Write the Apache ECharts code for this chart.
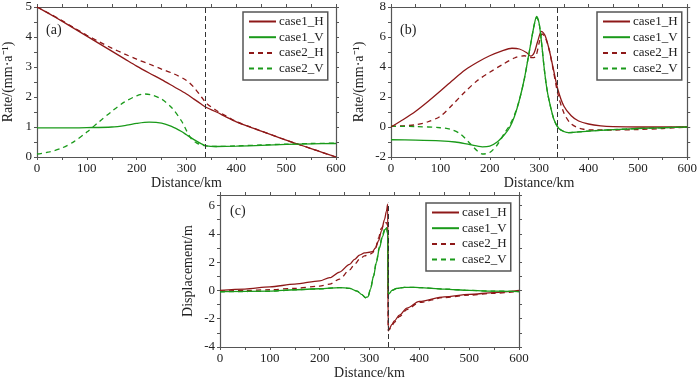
<!DOCTYPE html>
<html><head><meta charset="utf-8">
<script src="https://cdn.jsdelivr.net/npm/echarts@6/dist/echarts.min.js"></script>
<style>html,body{margin:0;padding:0;background:#fff}#c{width:700px;height:381px}</style>
</head><body><div id="c"></div>
<script>
// ---------- Panel (a) ----------
var aH1x = [0,25,50,75,100,125,150,175,200,225,250,275,300,315,330,340,360,380,400,425,450,475,500,525,550,575,600];
var aH1  = [5.0,4.77,4.53,4.28,4.03,3.78,3.53,3.28,3.03,2.8,2.58,2.34,2.1,1.93,1.76,1.65,1.5,1.33,1.17,1.01,0.86,0.71,0.56,0.42,0.28,0.14,0.0];
var aH2x = [0,25,50,75,100,125,150,175,200,225,250,275,300,315,330,340,360,380,400,425,450,475,500,525,550,575,600];
var aH2  = [5.0,4.78,4.55,4.3,4.06,3.84,3.63,3.44,3.26,3.1,2.93,2.77,2.55,2.32,2.0,1.79,1.55,1.36,1.18,1.02,0.87,0.71,0.56,0.42,0.28,0.14,0.0];
var aV1x = [0,50,100,150,180,200,225,250,270,290,300,315,330,340,360,400,450,500,550,600];
var aV1  = [0.97,0.97,0.98,1.0,1.06,1.12,1.16,1.13,1.02,0.85,0.74,0.58,0.44,0.37,0.35,0.36,0.39,0.42,0.44,0.45];
var aV2x = [0,25,50,75,100,125,150,175,200,215,230,250,270,290,300,310,320,330,340,360,400,450,500,550,600];
var aV2  = [0.1,0.17,0.3,0.52,0.83,1.18,1.52,1.83,2.04,2.1,2.07,1.93,1.65,1.2,0.88,0.6,0.47,0.4,0.37,0.35,0.37,0.4,0.43,0.45,0.46];
// ---------- Panel (b) ----------
var bH1x = [0,25,50,75,100,125,150,175,200,225,245,260,275,283,290,297,305,312,320,328,338,350,365,380,400,425,450,500,550,600];
var bH1  = [0,0.5,1.05,1.7,2.4,3.12,3.8,4.32,4.75,5.08,5.25,5.2,4.95,4.72,4.95,5.7,6.37,6.1,5.2,4.0,2.5,1.4,0.75,0.4,0.2,0.08,0.03,0,0,0];
var bH2x = [0,25,50,75,100,125,150,175,200,225,250,270,285,293,300,306,312,320,328,338,350,362,375,390,410,450,500,550,600];
var bH2  = [0.05,0.08,0.15,0.35,0.72,1.5,2.35,3.1,3.65,4.15,4.6,4.75,4.62,4.7,5.6,6.2,6.0,5.2,3.9,2.2,0.95,0.3,0.0,-0.15,-0.2,-0.2,-0.17,-0.1,0];
var bV1x = [0,50,100,130,160,185,200,215,230,240,250,260,270,280,290,295,300,305,310,315,320,330,340,350,360,380,400,450,500,550,600];
var bV1  = [-0.85,-0.87,-0.92,-1.0,-1.18,-1.32,-1.27,-1.0,-0.5,-0.05,0.7,1.8,3.2,5.0,6.8,7.37,6.9,5.6,4.0,2.7,1.8,0.5,-0.1,-0.3,-0.38,-0.33,-0.27,-0.18,-0.1,-0.05,0];
var bV2x = [0,50,100,120,140,160,175,185,200,215,230,240,250,260,270,280,290,295,300,305,310,315,320,330,340,350,360,380,400,450,500,550,600];
var bV2  = [0.05,0.03,-0.05,-0.15,-0.45,-1.1,-1.6,-1.8,-1.7,-1.2,-0.4,0.1,0.8,1.8,3.2,5.0,6.8,7.3,6.9,5.6,4.0,2.7,1.8,0.5,-0.1,-0.3,-0.38,-0.33,-0.27,-0.18,-0.1,-0.05,0];
// ---------- Panel (c) ----------
var cH1x = [0,50,100,150,200,220,240,260,270,280,290,300,306,312,318,324,330,334,336.5,337.5,340,345,350,360,375,400,450,500,550,600];
var cH1  = [0,0.1,0.25,0.45,0.68,0.9,1.3,1.85,2.2,2.5,2.65,2.7,2.75,3.0,3.5,4.2,5.0,5.6,6.1,-2.85,-2.7,-2.4,-2.15,-1.75,-1.25,-0.78,-0.45,-0.28,-0.15,0];
var cH2x = [0,50,100,150,200,220,240,260,270,280,290,300,306,312,318,324,330,334,336.5,337.5,340,345,350,360,375,400,450,500,550,600];
var cH2  = [-0.05,0.0,0.05,0.15,0.3,0.45,0.8,1.45,1.85,2.2,2.45,2.55,2.65,3.0,3.7,4.4,4.75,4.8,4.6,-2.85,-2.75,-2.5,-2.25,-1.85,-1.35,-0.85,-0.5,-0.33,-0.2,-0.05];
var cV1x = [0,100,150,200,240,260,275,285,292,297,302,308,314,320,326,331,334,336.5,337.5,340,345,355,370,385,400,450,500,550,600];
var cV1  = [-0.08,-0.05,0.05,0.12,0.2,0.15,-0.05,-0.3,-0.5,-0.45,0.1,1.0,2.0,3.0,3.8,4.3,4.4,4.0,-0.25,-0.2,0.0,0.15,0.22,0.22,0.2,0.1,0.0,-0.05,-0.08];
var cV2x = [0,100,150,200,240,260,275,285,292,297,302,308,314,320,326,331,334,336.5,337.5,340,345,355,370,385,400,450,500,550,600];
var cV2  = [-0.1,-0.06,0.04,0.11,0.2,0.15,-0.05,-0.32,-0.52,-0.45,0.1,1.0,2.1,3.1,3.9,4.4,4.5,4.1,-0.25,-0.2,0.0,0.15,0.22,0.22,0.2,0.1,0.0,-0.05,-0.08];

var seriesNames = ['case1_H','case1_V','case2_H','case2_V'];
var faultX = 337;
var faultTopC = 6.2;
var xTicks = {min:0, max:600, interval:100};
var yRanges = [{min:0,max:5,interval:1},{min:-2,max:8,interval:2},{min:-4,max:6.75,interval:2}];
var yNames = ['Rate/(mm·a⁻¹)','Rate/(mm·a⁻¹)','Displacement/m'];
var panelLabels = ['(a)','(b)','(c)'];

var RED = '#8e1818', GREEN = '#1a9a1a', AX = '#555';
var FONT = 'Liberation Serif';

function pairs(xs, ys){ return xs.map(function(x,i){return [x, ys[i]];}); }

var grids = [
  {left:36, top:7, width:300, height:150},
  {left:391, top:7, width:300, height:150},
  {left:220, top:195, width:299, height:153}
];

var xAxes = [], yAxes = [], series = [];
grids.forEach(function(g, i){
  var common = {gridIndex:i, type:'value', min:xTicks.min, max:xTicks.max, interval:xTicks.interval,
    axisLine:{show:true, onZero:false, lineStyle:{color:AX, width:1.2}},
    axisTick:{show:true, inside:false, length:3, lineStyle:{color:AX}},
    minorTick:{show:true, splitNumber:2, length:3, lineStyle:{color:AX}},
    splitLine:{show:false}};
  xAxes.push(Object.assign({}, common, {position:'bottom', name:'Distance/km', nameLocation:'middle', nameGap:19,
    nameTextStyle:{fontFamily:FONT, fontSize:14, color:'#222'},
    axisLabel:{fontFamily:FONT, fontSize:13, color:'#222', margin:5}}));
  xAxes.push(Object.assign({}, common, {position:'top', axisLabel:{show:false}}));
  var yr = yRanges[i];
  var ycommon = {gridIndex:i, type:'value', min:yr.min, max:yr.max, interval:yr.interval,
    axisLine:{show:true, onZero:false, lineStyle:{color:AX, width:1.2}},
    axisTick:{show:true, inside:false, length:3, lineStyle:{color:AX}},
    minorTick:{show:true, splitNumber:2, length:3, lineStyle:{color:AX}},
    splitLine:{show:false}};
  yAxes.push(Object.assign({}, ycommon, {position:'left', name:yNames[i], nameLocation:'middle', nameGap:i===0?22:25,
    nameTextStyle:{fontFamily:FONT, fontSize:14, color:'#222'},
    axisLabel:{fontFamily:FONT, fontSize:13, color:'#222', margin:5, showMaxLabel: i===2 ? false : null}}));
  yAxes.push(Object.assign({}, ycommon, {position:'right', axisLabel:{show:false}}));
});

var panelData = [
  [[aH1x,aH1],[aV1x,aV1],[aH2x,aH2],[aV2x,aV2]],
  [[bH1x,bH1],[bV1x,bV1],[bH2x,bH2],[bV2x,bV2]],
  [[cH1x,cH1],[cV1x,cV1],[cH2x,cH2],[cV2x,cV2]]
];
panelData.forEach(function(pd, i){
  pd.forEach(function(d, k){
    var s = {
      name: seriesNames[k], type:'line', xAxisIndex:2*i, yAxisIndex:2*i,
      data: pairs(d[0], d[1]), symbol:'none', smooth:0.3,
      clip:true,
      lineStyle:{color: (k%2===0)?RED:GREEN, width:1.3, type: k<2 ? 'solid' : [5,4]},
      itemStyle:{color:(k%2===0)?RED:GREEN},
      z: 3 - Math.floor(k/2)
    };
    if (i===2) s.smoothMonotone = 'x';
    if (k===0){
      var ml = i===2 ? [[{coord:[faultX, yRanges[2].min]},{coord:[faultX, faultTopC]}]] : [{xAxis:faultX}];
      s.markLine = {silent:true, symbol:'none', label:{show:false},
        lineStyle:{color:'#333', type:[5,3], width:1},
        data:ml, animation:false};
    }
    series.push(s);
  });
});

var legendPos = [{left:243, top:12},{left:597, top:12},{left:426, top:203}];
var legends = legendPos.map(function(p){
  return {left:p.left, top:p.top, orient:'vertical', data:seriesNames,
    itemWidth:27, itemHeight:12, itemGap:2.7, padding:[3,4,5,5],
    itemStyle:{opacity:0},
    borderColor:'#555', borderWidth:1.5, selectedMode:false,
    textStyle:{fontFamily:FONT, fontSize:13, lineHeight:12, color:'#222', padding:[0,0,0,-2]}};
});

var graphics = [
  {type:'text', left:46, top:23, style:{text:'(a)', font:'14px "Liberation Serif"', fill:'#222'}},
  {type:'text', left:400, top:23, style:{text:'(b)', font:'14px "Liberation Serif"', fill:'#222'}},
  {type:'text', left:230, top:204, style:{text:'(c)', font:'14px "Liberation Serif"', fill:'#222'}}
];

var chart = echarts.init(document.getElementById('c'), null, {renderer:'canvas'});
chart.setOption({
  animation:false,
  backgroundColor:'#fff',
  grid: grids,
  xAxis: xAxes,
  yAxis: yAxes,
  legend: legends,
  graphic: graphics,
  series: series
});
</script></body></html>
